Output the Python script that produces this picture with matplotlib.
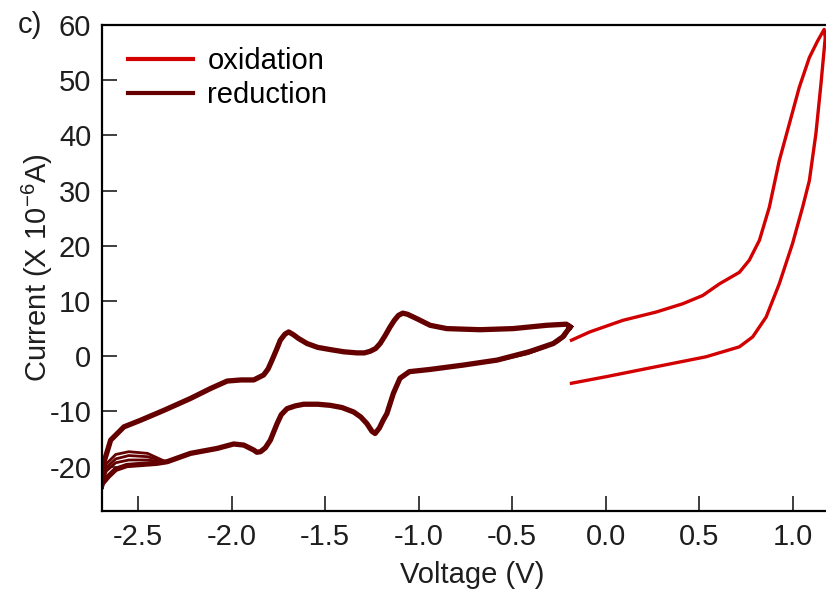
import matplotlib
matplotlib.use("Agg")
import matplotlib.pyplot as plt

# reduction CV: lower branch (tip -> left), then upper branch (left -> tip)
red_v = [-0.19, -0.23, -0.28, -0.41, -0.58, -0.76, -0.94, -1.05, -1.10, -1.135, -1.17,
         -1.19, -1.21, -1.233, -1.25, -1.277, -1.31, -1.348, -1.41, -1.473, -1.54, -1.615,
         -1.66, -1.704, -1.735, -1.757, -1.793, -1.82, -1.846, -1.865,
         -1.882, -1.935, -1.989, -2.077, -2.22, -2.344, -2.40, -2.48, -2.56, -2.62, -2.66, -2.69, -2.70,
         -2.69, -2.647, -2.576, -2.487, -2.362, -2.22, -2.113, -2.024, -1.95, -1.882, -1.829, -1.805,
         -1.784, -1.76, -1.74, -1.715, -1.695, -1.67, -1.642, -1.597, -1.54, -1.473, -1.40, -1.33,
         -1.29, -1.259, -1.23, -1.206, -1.18, -1.153, -1.13, -1.108, -1.085, -1.06, -1.035,
         -1.01, -0.939, -0.85, -0.672, -0.495, -0.316, -0.21, -0.19]
red_i = [5.3, 3.5, 2.3, 0.8, -0.7, -1.6, -2.4, -2.8, -4.0, -6.7, -10.4,
         -11.6, -13.0, -14.0, -13.6, -12.2, -11.0, -10.1, -9.3, -8.9, -8.7, -8.7,
         -9.0, -9.5, -10.6, -12.2, -15.2, -16.6, -17.3, -17.4,
         -17.0, -16.1, -15.9, -16.7, -17.6, -19.1, -19.4, -19.6, -19.8, -20.5, -21.8, -23.0, -24.0,
         -20.0, -15.2, -12.8, -11.6, -9.8, -7.65, -5.85, -4.5, -4.3, -4.3, -3.4, -2.3,
         -0.7, 1.2, 2.9, 4.0, 4.4, 3.9, 3.2, 2.3, 1.6, 1.2, 0.8, 0.6,
         0.6, 0.9, 1.4, 2.3, 3.7, 5.3, 6.5, 7.4, 7.8, 7.6, 7.2,
         6.8, 5.6, 5.0, 4.8, 5.0, 5.6, 5.8, 5.3]

# earlier scans that separate near the negative limit and near the turning point
scan_v = [-2.36, -2.45, -2.55, -2.62, -2.67, -2.70]
scan1_i = [-19.0, -17.6, -17.3, -17.8, -19.5, -22.5]
scan2_i = [-19.1, -18.2, -18.0, -18.6, -20.2, -23.0]
scan3_i = [-19.2, -18.8, -18.8, -19.3, -20.8, -23.5]
tip_v = [-0.19, -0.22, -0.26, -0.32, -0.42, -0.55]
tip_i = [5.3, 3.6, 2.6, 1.7, 0.5, -0.5]

# oxidation CV: forward branch then return branch
ox_v = [-0.183, -0.085, 0.092, 0.27, 0.412, 0.519, 0.608, 0.715, 0.768, 0.822, 0.875,
        0.928, 0.982, 1.035, 1.089, 1.133, 1.168, 1.174, 1.151, 1.124, 1.089, 1.053,
        0.999, 0.928, 0.858, 0.786, 0.715, 0.537, 0.359, 0.181, 0.004, -0.183]
ox_i = [2.9, 4.4, 6.5, 8.0, 9.5, 11.0, 13.1, 15.2, 17.4, 21.0, 27.0,
        35.4, 42.1, 48.7, 54.1, 57.1, 59.2, 57.7, 49.3, 40.3, 31.8, 27.0,
        20.4, 13.1, 7.1, 3.5, 1.7, -0.1, -1.3, -2.5, -3.7, -4.9]

xticks = [-2.5, -2.0, -1.5, -1.0, -0.5, 0.0, 0.5, 1.0]
yticks = [-20, -10, 0, 10, 20, 30, 40, 50, 60]

plt.rcParams['font.family'] = ['Liberation Sans', 'DejaVu Sans']
plt.rcParams['axes.unicode_minus'] = False
plt.rcParams['mathtext.fontset'] = 'custom'
plt.rcParams['mathtext.rm'] = 'Liberation Sans'
plt.rcParams['mathtext.it'] = 'Liberation Sans'

ox_col = '#d20000'
red_col = '#640000'
txt_col = '#1e1e1e'
fs = 21

fig = plt.figure(figsize=(8.26, 5.92), dpi=100)
ax = fig.add_axes([0.1231, 0.1372, 0.8769, 0.8206])

for s in (scan1_i, scan2_i, scan3_i):
    ax.plot(scan_v, s, color=red_col, lw=2.0, solid_capstyle='round')
ax.plot(tip_v, tip_i, color=red_col, lw=2.5, solid_capstyle='round')
ax.plot(red_v, red_i, color=red_col, lw=3.8, solid_joinstyle='round', label='reduction')
ax.plot(ox_v, ox_i, color=ox_col, lw=2.4, solid_joinstyle='round', label='oxidation')

ax.set_xlim(-2.695, 1.178)
ax.set_ylim(-28.0, 59.9)
ax.set_xticks(xticks)
ax.set_xticklabels(['%.1f' % v for v in xticks])
ax.set_yticks(yticks)
ax.tick_params(direction='in', length=11, width=1.2, labelsize=fs, colors=txt_col)
ax.tick_params(axis='y', pad=7.5)
ax.tick_params(axis='x', pad=9)
ax.spines['right'].set_visible(False)
for sp in ('left', 'bottom', 'top'):
    ax.spines[sp].set_linewidth(1.6)

ax.set_xlabel('Voltage (V)', fontsize=fs, color=txt_col)
ax.xaxis.set_label_coords(0.512, -0.104)
ax.set_ylabel('Current (X 10$^{-6}$A)', fontsize=fs, color=txt_col)
ax.yaxis.set_label_coords(-0.065, 0.5)

h, l = ax.get_legend_handles_labels()
leg = ax.legend([h[1], h[0]], [l[1], l[0]], loc='upper left', bbox_to_anchor=(0.0203, 0.978),
                borderaxespad=0, frameon=False, fontsize=fs, handlelength=2.24,
                handletextpad=0.48, labelspacing=0.2)
for ln in leg.get_lines():
    ln.set_linewidth(3.0)

fig.text(0.022, 0.957, 'c)', fontsize=fs, color=txt_col, va='center')

fig.savefig('out.png', dpi=100)
